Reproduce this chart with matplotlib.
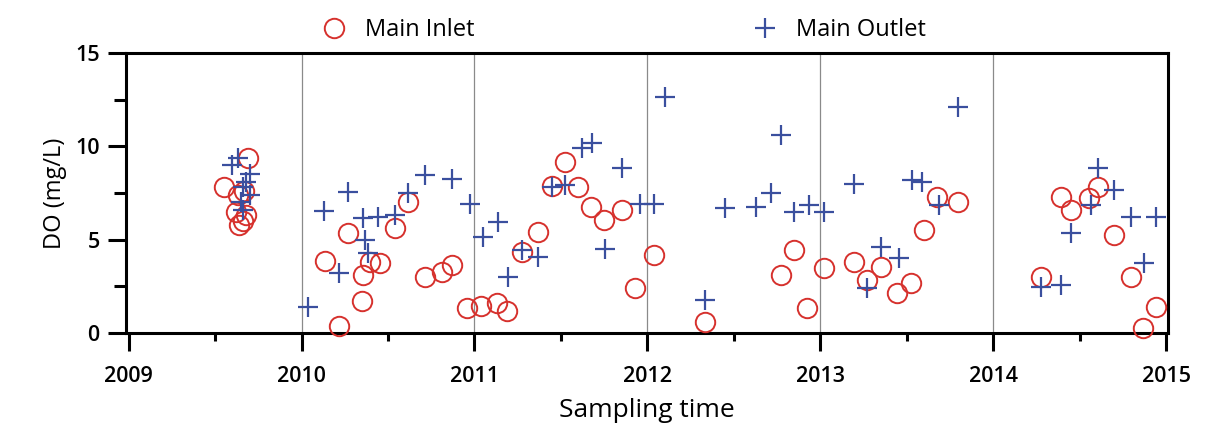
import matplotlib
matplotlib.use("Agg")
import matplotlib.pyplot as plt
from matplotlib.ticker import MultipleLocator

plt.rcParams["font.family"] = ["Open Sans", "DejaVu Sans"]

# Main inlet DO readings (decimal year, mg/L)
inlet_t = [2009.55, 2009.69, 2009.63, 2009.62, 2009.66, 2009.68, 2009.64, 2009.67,
           2010.135, 2010.218, 2010.27, 2010.347, 2010.353, 2010.395, 2010.453, 2010.54,
           2010.617, 2010.714, 2010.81, 2010.869, 2010.955,
           2011.035, 2011.129, 2011.19, 2011.273, 2011.37, 2011.447, 2011.525, 2011.596,
           2011.673, 2011.746, 2011.853, 2011.926,
           2012.04, 2012.335, 2012.77, 2012.847, 2012.924,
           2013.02, 2013.194, 2013.272, 2013.349, 2013.445, 2013.522, 2013.6, 2013.677, 2013.793,
           2014.275, 2014.39, 2014.449, 2014.555, 2014.603, 2014.7, 2014.796, 2014.863, 2014.941]
inlet_do = [7.8, 9.4, 7.4, 6.5, 6.0, 6.3, 5.8, 7.6,
            3.87, 0.37, 5.37, 1.73, 3.11, 3.82, 3.73, 5.61,
            7.03, 3.02, 3.28, 3.64, 1.32,
            1.45, 1.59, 1.2, 4.36, 5.43, 7.87, 9.18, 7.8,
            6.77, 6.05, 6.59, 2.39,
            4.18, 0.61, 3.11, 4.45, 1.32,
            3.46, 3.82, 2.84, 3.55, 2.12, 2.66, 5.52, 7.3, 7.03,
            3.02, 7.3, 6.59, 7.21, 7.84, 5.25, 3.02, 0.25, 1.41]

# Main outlet DO readings
outlet_t = [2009.63, 2009.60, 2009.70, 2009.66, 2009.70, 2009.65, 2009.66, 2009.68,
            2010.04, 2010.129, 2010.218, 2010.27, 2010.357, 2010.367, 2010.386, 2010.444,
            2010.54, 2010.617, 2010.714, 2010.869, 2010.975,
            2011.047, 2011.138, 2011.196, 2011.274, 2011.37, 2011.447, 2011.525, 2011.62,
            2011.68, 2011.756, 2011.853, 2011.959,
            2012.036, 2012.104, 2012.335, 2012.451, 2012.625, 2012.712, 2012.77, 2012.847, 2012.934,
            2013.02, 2013.194, 2013.272, 2013.349, 2013.454, 2013.532, 2013.59, 2013.686, 2013.793,
            2014.275, 2014.39, 2014.449, 2014.565, 2014.603, 2014.7, 2014.796, 2014.873, 2014.941]
outlet_do = [9.4, 9.0, 8.5, 7.8, 7.4, 7.0, 6.6, 8.1,
             1.41, 6.53, 3.2, 7.57, 6.14, 4.98, 4.27, 6.2,
             6.32, 7.48, 8.46, 8.23, 6.91,
             5.16, 5.96, 3.02, 4.45, 4.09, 7.84, 7.93, 9.89,
             10.16, 4.48, 8.82, 6.91,
             6.91, 12.62, 1.77, 6.68, 6.77, 7.48, 10.6, 6.5, 6.86,
             6.5, 7.98, 2.39, 4.62, 4.0, 8.2, 8.1, 6.86, 12.12,
             2.48, 2.57, 5.34, 6.86, 8.82, 7.66, 6.23, 3.73, 6.2]

years = [2009, 2010, 2011, 2012, 2013, 2014, 2015]

fig = plt.figure(figsize=(12.08, 4.43), dpi=100)
ax = fig.add_axes([0.1043, 0.2483, 0.8626, 0.6321])

ax.plot(inlet_t, inlet_do, "o", ms=14, mfc="none", mec="#d6312d", mew=1.4,
        label="Main Inlet", clip_on=False, zorder=3)
ax.plot(outlet_t, outlet_do, "+", ms=15, mec="#3a4f9e", mew=1.6,
        label="Main Outlet", clip_on=False, zorder=4)

# year separators (inner years only)
for yr in years[1:-1]:
    ax.axvline(yr, color="#8a8a8a", lw=0.9, zorder=1)

ax.set_xlim(2008.985, 2015.01)
ax.set_ylim(0, 15)
ax.set_xticks(years)
ax.set_xticklabels([str(y) for y in years])
ax.xaxis.set_minor_locator(MultipleLocator(0.5))
ax.yaxis.set_major_locator(MultipleLocator(5))
ax.yaxis.set_minor_locator(MultipleLocator(2.5))

for s in ax.spines.values():
    s.set_linewidth(2.2)
ax.tick_params(axis="both", which="major", direction="out", length=13, width=2.2,
               labelsize=15.5)
ax.tick_params(axis="x", which="major", pad=11)
ax.tick_params(axis="y", which="major", pad=6)
ax.tick_params(axis="y", which="minor", direction="out", length=9, width=2.2)
ax.tick_params(axis="x", which="minor", direction="out", length=6, width=2.2)
for lab in ax.get_xticklabels() + ax.get_yticklabels():
    lab.set_fontweight("semibold")

ax.set_xlabel("Sampling time", fontsize=19, labelpad=8)
ax.set_ylabel("DO (mg/L)", fontsize=17, labelpad=6)

fig.legend(loc="center", bbox_to_anchor=(0.5166, 0.932), ncol=2, frameon=False,
           fontsize=17, handlelength=1.0, handletextpad=0.8, columnspacing=11.8)

fig.savefig("out.png", dpi=100)
